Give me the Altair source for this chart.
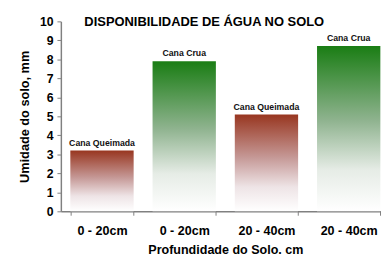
import altair as alt
import pandas as pd

# ---- data ----
idx = [0, 1, 2, 3]
depth_labels = ["0 - 20cm", "0 - 20cm", "20 - 40cm", "20 - 40cm"]
treatments = ["Cana Queimada", "Cana Crua", "Cana Queimada", "Cana Crua"]
values = [3.2, 7.9, 5.1, 8.7]
y_ticks = list(range(0, 11))
chart_title = "DISPONIBILIDADE DE ÁGUA NO SOLO"

df = pd.DataFrame({"idx": idx, "depth": depth_labels, "treat": treatments, "value": values})

FONT = "Liberation Sans"
label_expr = "[" + ",".join("'%s'" % d for d in depth_labels) + "][datum.value]"

x_enc = alt.X(
    "idx:O",
    title="Profundidade do Solo. cm",
    scale=alt.Scale(paddingInner=0.23, paddingOuter=0.115, range=[0, 336]),
    axis=alt.Axis(
        labelExpr=label_expr, labelAngle=0, tickBand="extent",
        labelFontSize=12.8, labelPadding=10, titleFontSize=12.8, titlePadding=6,
        tickSize=4,
    ),
)
y_enc = alt.Y(
    "value:Q",
    title="Umidade do solo, mm",
    scale=alt.Scale(domain=[0, 10], nice=False),
    axis=alt.Axis(values=y_ticks, labelFontSize=12.5, labelPadding=4,
                  titleFontSize=13, titlePadding=8, tickSize=4, grid=False),
)

base = alt.Chart(df).encode(x=x_enc, y=y_enc)

green = alt.Gradient(
    gradient="linear", x1=0, x2=0, y1=0, y2=1,
    stops=[
        alt.GradientStop(color="#1a7d14", offset=0),
        alt.GradientStop(color="#8fb38f", offset=0.45),
        alt.GradientStop(color="#e6ece6", offset=0.75),
        alt.GradientStop(color="#ffffff", offset=1),
    ],
)
red = alt.Gradient(
    gradient="linear", x1=0, x2=0, y1=0, y2=1,
    stops=[
        alt.GradientStop(color="#983620", offset=0),
        alt.GradientStop(color="#c69a98", offset=0.45),
        alt.GradientStop(color="#eee4e6", offset=0.75),
        alt.GradientStop(color="#ffffff", offset=1),
    ],
)

bars_crua = base.mark_bar(color=green).transform_filter(alt.datum.treat == "Cana Crua")
bars_queim = base.mark_bar(color=red).transform_filter(alt.datum.treat == "Cana Queimada")

labels = base.mark_text(
    baseline="alphabetic", dy=-5, font=FONT, fontSize=8.9, fontWeight="bold", color="#111111"
).encode(text="treat:N")

title_layer = alt.Chart(pd.DataFrame({"t": [chart_title]})).mark_text(
    align="left", baseline="middle", font=FONT, fontSize=13.2, fontWeight="bold", color="#000000"
).encode(x=alt.value(24), y=alt.value(1), text="t:N")

chart = alt.layer(bars_queim, bars_crua, labels, title_layer).properties(
    width=327, height=194,
    autosize=alt.AutoSizeParams(type="none"),
    padding={"left": 54, "top": 11, "right": 0, "bottom": 44},
).configure_view(stroke=None).configure_axis(
    labelFont=FONT, titleFont=FONT, labelFontWeight="bold", titleFontWeight="bold",
    labelColor="#000000", titleColor="#000000",
    domainColor="#808080", tickColor="#808080", domainWidth=1.5, tickWidth=1,
)

chart.save("out.html", embed_options={"renderer": "svg", "actions": False})
